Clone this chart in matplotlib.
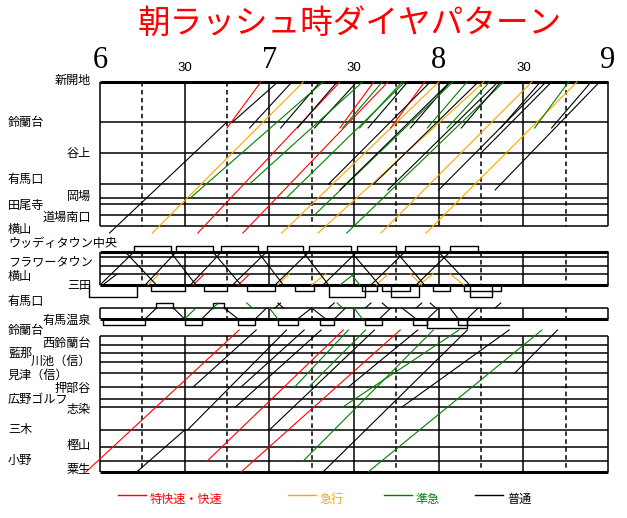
import matplotlib
matplotlib.use("Agg")
import matplotlib.pyplot as plt

plt.rcParams['font.family'] = ['Noto Sans CJK JP', 'DejaVu Sans']

# ---------------- data (times) ----------------
TITLE = "朝ラッシュ時ダイヤパターン"
HOUR_LABELS = ["6", "7", "8", "9"]
HALF_LABEL = "30"
KINDS = ["R", "O", "G", "K"]
KIND_NAMES = ["特快速・快速", "急行", "準急", "普通"]

# stations of each block, top to bottom
SANDA = ["新開地", "鈴蘭台", "谷上", "有馬口", "岡場", "田尾寺", "道場南口", "横山"]
KOEN = ["ウッディタウン中央", "南ウッディタウン", "フラワータウン", "横山", "三田"]
ARIMA = ["有馬口", "有馬温泉"]
AO = ["鈴蘭台", "西鈴蘭台", "藍那", "川池（信）", "見津（信）", "押部谷",
      "広野ゴルフ", "志染", "三木", "樫山", "小野", "粟生"]
TERMINALS = ["新開地", "ウッディタウン中央", "三田", "有馬温泉", "粟生"]

# 三田線 up trains: (kind, from, time, to, time)
SANDA_RUNS = [
    ("K", "横山", "6:06", "鈴蘭台", "6:45"),
    ("K", "鈴蘭台", "6:47", "新開地", "7:03"),
    ("O", "横山", "6:21", "新開地", "7:12"),
    ("R", "横山", "6:37", "新開地", "7:25"),
    ("R", "横山", "6:53", "新開地", "7:42"),
    ("O", "横山", "7:07", "新開地", "8:00"),
    ("O", "横山", "7:20", "新開地", "8:16"),
    ("G", "横山", "7:30", "新開地", "8:23"),
    ("O", "横山", "7:42", "新開地", "8:33"),
    ("O", "横山", "7:58", "新開地", "8:49"),
    ("R", "粟生線", "6:45", "新開地", "6:57"),
    ("K", "粟生線", "6:53", "新開地", "7:08"),
    ("K", "粟生線", "7:04", "新開地", "7:18"),
    ("K", "粟生線", "7:10", "新開地", "7:24"),
    ("K", "粟生線", "7:16", "新開地", "7:31"),
    ("R", "粟生線", "7:25", "新開地", "7:37"),
    ("G", "粟生線", "7:26", "新開地", "7:40"),
    ("G", "粟生線", "7:32", "新開地", "7:47"),
    ("K", "粟生線", "7:35", "新開地", "7:49"),
    ("R", "粟生線", "7:43", "新開地", "7:55"),
    ("K", "粟生線", "7:50", "新開地", "8:04"),
    ("G", "粟生線", "7:56", "新開地", "8:10"),
    ("G", "粟生線", "8:03", "新開地", "8:18"),
    ("K", "粟生線", "8:08", "新開地", "8:22"),
    ("K", "粟生線", "8:22", "新開地", "8:36"),
    ("G", "粟生線", "8:34", "新開地", "8:46"),
    ("K", "粟生線", "8:40", "新開地", "8:54"),
    ("G", "岡場", "6:32", "新開地", "7:19"),
    ("G", "有馬口", "6:53", "新開地", "7:33"),
    ("G", "岡場", "7:06", "新開地", "7:48"),
    ("G", "道場南口", "7:16", "新開地", "8:05"),
    ("K", "有馬線", "7:25", "新開地", "8:04"),
    ("K", "有馬線", "7:42", "新開地", "8:21"),
    ("K", "有馬線", "8:00", "新開地", "8:38"),
    ("K", "有馬線", "8:20", "新開地", "8:57"),
    ("K", "有馬口", "7:21", "新開地", "7:57"),
    ("K", "有馬口", "7:37", "新開地", "8:14"),
    ("K", "谷上", "8:15", "新開地", "8:40"),
]

# 公園都市線 / 三田 - 横山
KOEN_RUNS = [
    ("K", "三田", "6:01", "横山", "6:06"),
    ("O", "三田", "6:17", "横山", "6:21"),
    ("R", "三田", "6:33", "横山", "6:37"),
    ("R", "三田", "6:49", "横山", "6:53"),
    ("O", "三田", "7:03", "横山", "7:07"),
    ("O", "三田", "7:15", "横山", "7:20"),
    ("G", "三田", "7:25", "横山", "7:30"),
    ("O", "三田", "7:38", "横山", "7:42"),
    ("O", "三田", "7:53", "横山", "7:58"),
    ("G", "横山", "7:29", "三田", "7:32"),
    ("O", "横山", "7:50", "三田", "7:54"),
    ("O", "横山", "8:04", "三田", "8:09"),
    ("K", "三田", "6:00", "ウッディタウン中央", "6:12"),
    ("K", "三田", "6:16", "ウッディタウン中央", "6:27"),
    ("K", "三田", "6:32", "ウッディタウン中央", "6:43"),
    ("K", "三田", "6:47", "ウッディタウン中央", "6:59"),
    ("K", "三田", "7:02", "ウッディタウン中央", "7:14"),
    ("K", "三田", "7:19", "ウッディタウン中央", "7:31"),
    ("K", "三田", "7:36", "ウッディタウン中央", "7:48"),
    ("K", "三田", "7:52", "ウッディタウン中央", "8:04"),
    ("K", "ウッディタウン中央", "6:09", "三田", "6:20"),
    ("K", "ウッディタウン中央", "6:25", "三田", "6:34"),
    ("K", "ウッディタウン中央", "6:40", "三田", "6:50"),
    ("K", "ウッディタウン中央", "6:56", "三田", "7:05"),
    ("K", "ウッディタウン中央", "7:12", "三田", "7:21"),
    ("K", "ウッディタウン中央", "7:29", "三田", "7:39"),
    ("K", "ウッディタウン中央", "7:45", "三田", "7:55"),
    ("K", "ウッディタウン中央", "8:00", "三田", "8:11"),
]
KOEN_TOP_WAITS = [("6:12", "6:25"), ("6:27", "6:40"), ("6:43", "6:56"), ("6:59", "7:12"),
                  ("7:14", "7:29"), ("7:31", "7:45"), ("7:48", "8:00"), ("8:04", "8:14")]
KOEN_LOW_WAITS = [("6:18", "6:30"), ("6:37", "6:45"), ("6:52", "7:02"), ("7:09", "7:16"),
                  ("7:33", "7:38"), ("7:40", "7:50"), ("7:58", "8:04"), ("8:09", "8:22")]
KOEN_DEEP_WAITS = [("5:56", "6:13"), ("7:21", "7:34"), ("7:43", "7:53"), ("8:11", "8:19")]

# 有馬線
ARIMA_RUNS = [
    ("K", "有馬温泉", "6:16", "有馬口", "6:20"),
    ("G", "有馬温泉", "6:30", "有馬口", "6:34"),
    ("K", "有馬温泉", "6:36", "有馬口", "6:40"),
    ("K", "有馬温泉", "6:55", "有馬口", "6:59"),
    ("K", "有馬温泉", "7:10", "有馬口", "7:15"),
    ("K", "有馬温泉", "7:23", "有馬口", "7:27"),
    ("K", "有馬温泉", "7:39", "有馬口", "7:43"),
    ("K", "有馬温泉", "7:56", "有馬口", "8:00"),
    ("K", "有馬温泉", "8:10", "有馬口", "8:14"),
    ("K", "有馬口", "6:26", "有馬温泉", "6:30"),
    ("K", "有馬口", "6:44", "有馬温泉", "6:49"),
    ("G", "有馬口", "7:00", "有馬温泉", "7:03"),
    ("K", "有馬口", "7:15", "有馬温泉", "7:20"),
    ("G", "有馬口", "7:30", "有馬温泉", "7:33"),
    ("K", "有馬口", "7:47", "有馬温泉", "7:52"),
    ("K", "有馬口", "8:04", "有馬温泉", "8:07"),
]
ARIMA_TOP_WAITS = [("6:20", "6:26"), ("6:40", "6:44")]
ARIMA_LOW_WAITS = [("6:01", "6:16"), ("6:30", "6:36"), ("6:49", "6:55"), ("7:03", "7:10"),
                   ("7:18", "7:23"), ("7:34", "7:40"), ("7:51", "7:56"), ("8:07", "8:10")]
ARIMA_DEEP_WAITS = [("7:56", "8:10")]
ARIMA_PARKED = [("8:10", "8:25")]
ARIMA_UP_STUBS = [("G", "6:40", "6:42"), ("K", "7:02", "7:04"), ("K", "7:21", "7:23"),
                  ("K", "7:34", "7:36"), ("K", "7:52", "7:54"), ("K", "8:20", "8:22")]
ARIMA_DOWN_STUBS = [("G", "6:52", "6:54"), ("K", "7:03", "7:05"), ("G", "7:24", "7:26"),
                    ("K", "7:40", "7:42"), ("K", "7:57", "7:59")]

# 粟生線 up trains
AO_RUNS = [
    ("R", "粟生", "5:55", "鈴蘭台", "6:47"),
    ("R", "小野", "6:38", "鈴蘭台", "7:24"),
    ("R", "粟生", "6:50", "鈴蘭台", "7:44"),
    ("K", "粟生", "6:13", "三木", "6:30"),
    ("K", "三木", "6:31", "鈴蘭台", "7:04"),
    ("K", "押部谷", "6:33", "鈴蘭台", "6:53"),
    ("K", "押部谷", "6:50", "鈴蘭台", "7:10"),
    ("K", "志染", "6:48", "鈴蘭台", "7:16"),
    ("K", "三木", "7:00", "鈴蘭台", "7:35"),
    ("K", "粟生", "7:19", "鈴蘭台", "8:08"),
    ("K", "押部谷", "7:28", "鈴蘭台", "7:50"),
    ("K", "志染", "7:47", "鈴蘭台", "8:22"),
    ("K", "見津（信）", "8:27", "鈴蘭台", "8:40"),
    ("G", "押部谷", "7:09", "鈴蘭台", "7:26"),
    ("G", "押部谷", "7:14", "鈴蘭台", "7:32"),
    ("G", "小野", "7:12", "鈴蘭台", "7:56"),
    ("G", "志染", "7:26", "鈴蘭台", "8:04"),
    ("G", "粟生", "7:35", "鈴蘭台", "8:34"),
]

# ---------------- layout ----------------
W, H = 627, 518
X0, X1 = 100, 608            # 6:00 and 9:00 in pixels
PX_MIN = (X1 - X0) / 180.0
Y_SANDA = [82, 122, 153, 184, 198, 204, 215, 226]
Y_KOEN = [252, 257, 266, 274, 285]
Y_ARIMA = [308, 319]
Y_AO = [336, 345, 353, 362, 373, 387, 399, 407, 430, 447, 461, 472]
SANDA_EXTRA = {"粟生線": 128, "有馬線": 190}
COLORS = {"R": "#ff0000", "O": "#ffa500", "G": "#008000", "K": "#000000"}

# labels: side (L/R) and y
LAB_SANDA = [("R", 80), ("L", 122), ("R", 153), ("L", 180), ("R", 196), ("L", 205), ("R", 217), ("L", 229)]
LAB_KOEN = [("L", 244), (None, 0), ("L", 262), ("L", 276), ("R", 286)]
LAB_ARIMA = [("L", 302), ("R", 320)]
LAB_AO = [("L", 330), ("R", 343), ("L", 353), ("R", 361), ("L", 375), ("R", 388),
          ("L", 399), ("R", 409), ("L", 430), ("R", 446), ("L", 460), ("R", 469)]


def tm(s):
    h, m = s.split(":")
    return (int(h) - 6) * 60 + int(m)


fig = plt.figure(figsize=(W / 100, H / 100), dpi=100)
ax = fig.add_axes([0, 0, 1, 1])
ax.set_xlim(-X0 / PX_MIN, (W - X0) / PX_MIN)
ax.set_ylim(H, 0)
ax.axis("off")
lab = fig.add_axes([0, 0, 1, 1], facecolor="none")
lab.set_xlim(0, W)
lab.set_ylim(H, 0)
lab.axis("off")


def grid(names, ys):
    top, bot = min(ys), max(ys)
    for m in range(0, 181, 15):
        ls = "-" if m % 30 == 0 else (0, (3.0, 2.2))
        ax.plot([m, m], [top, bot], color="k", lw=1.1, ls=ls, solid_capstyle="butt", zorder=1)
    for name, y in zip(names, ys):
        ax.plot([0, 180], [y, y], color="k", lw=2.2 if name in TERMINALS else 1.1,
                solid_capstyle="butt", zorder=1)


def run(pos, kind, a, ta, b, tb, ext_a=0.0, ext_b=0.0):
    x0, x1, y0, y1 = tm(ta), tm(tb), pos[a], pos[b]
    k = (x1 - x0) / (y1 - y0)
    if ext_a:
        dy = ext_a if y0 > y1 else -ext_a
        x0, y0 = x0 + k * dy, y0 + dy
    if ext_b:
        dy = -ext_b if y1 < y0 else ext_b
        x1, y1 = x1 + k * dy, y1 + dy
    ax.plot([x0, x1], [y0, y1], color=COLORS[kind], lw=0.8, zorder=3)


def waits(spans, base, level):
    for a, b in spans:
        ax.plot([tm(a), tm(a), tm(b), tm(b)], [base, level, level, base],
                color="k", lw=1.0, zorder=2)


def labels(names, ys_lab):
    for name, (side, y) in zip(names, ys_lab):
        if side == "L":
            lab.text(8, y, name, ha="left", va="center", fontsize=8.7)
        elif side == "R":
            lab.text(91, y, name, ha="right", va="center", fontsize=8.7)


# --- 三田線 block
p1 = dict(zip(SANDA, Y_SANDA))
p1.update(SANDA_EXTRA)
grid(SANDA, Y_SANDA)
for kind, a, ta, b, tb in SANDA_RUNS:
    run(p1, kind, a, ta, b, tb, ext_a=7 if a == "横山" else 0)
labels(SANDA, LAB_SANDA)

# --- 公園都市線 block
p2 = dict(zip(KOEN, Y_KOEN))
grid(KOEN, Y_KOEN)
for kind, a, ta, b, tb in KOEN_RUNS:
    run(p2, kind, a, ta, b, tb)
waits(KOEN_TOP_WAITS, Y_KOEN[0], Y_KOEN[0] - 6)
waits(KOEN_LOW_WAITS, Y_KOEN[-1], Y_KOEN[-1] + 6)
waits(KOEN_DEEP_WAITS, Y_KOEN[-1], Y_KOEN[-1] + 12)
labels(KOEN, LAB_KOEN)

# --- 有馬線 block
p3 = dict(zip(ARIMA, Y_ARIMA))
grid(ARIMA, Y_ARIMA)
for kind, a, ta, b, tb in ARIMA_RUNS:
    run(p3, kind, a, ta, b, tb)
waits(ARIMA_TOP_WAITS, Y_ARIMA[0], Y_ARIMA[0] - 5)
waits(ARIMA_LOW_WAITS, Y_ARIMA[-1], Y_ARIMA[-1] + 6)
waits(ARIMA_DEEP_WAITS, Y_ARIMA[-1], Y_ARIMA[-1] + 9)
for a, b in ARIMA_PARKED:
    ax.plot([tm(a), tm(b)], [Y_ARIMA[-1] + 6] * 2, color="k", lw=1.0)
for kind, a, b in ARIMA_UP_STUBS:
    ax.plot([tm(a), tm(b)], [Y_ARIMA[0], Y_ARIMA[0] - 5], color=COLORS[kind], lw=0.8)
for kind, a, b in ARIMA_DOWN_STUBS:
    ax.plot([tm(a), tm(b)], [Y_ARIMA[0] - 5, Y_ARIMA[0]], color=COLORS[kind], lw=0.8)
labels(ARIMA, LAB_ARIMA)

# --- 粟生線 block
p4 = dict(zip(AO, Y_AO))
grid(AO, Y_AO)
for kind, a, ta, b, tb in AO_RUNS:
    run(p4, kind, a, ta, b, tb, ext_b=6 if b == "鈴蘭台" else 0)
labels(AO, LAB_AO)

# --- title, hour labels
lab.text(350, 24, TITLE, ha="center", va="center", fontsize=23.5, color="#ff0000")
for i, h in enumerate(HOUR_LABELS):
    ax.text(i * 60, 61, h, ha="center", va="center", fontsize=22,
            family="Liberation Serif")
    if i < 3:
        ax.text(i * 60 + 30, 68, HALF_LABEL, ha="center", va="center", fontsize=9.5,
                family="Liberation Sans")

# --- legend
LEG_X = [118, 288, 384, 475]
for x, kind, name in zip(LEG_X, KINDS, KIND_NAMES):
    lab.plot([x, x + 28], [495, 495], color=COLORS[kind], lw=1.0)
    lab.text(x + 32, 499, name, ha="left", va="center", fontsize=8.7, color=COLORS[kind])

fig.savefig("out.png", dpi=100)
